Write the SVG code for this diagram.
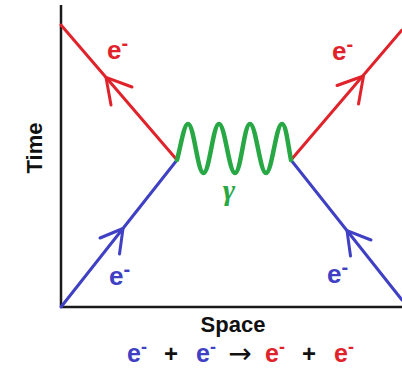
<svg xmlns="http://www.w3.org/2000/svg" width="402" height="379" viewBox="0 0 402 379">
<style>
.t{font-family:"Liberation Sans","DejaVu Sans",sans-serif;font-weight:bold}
.lab{font-size:26px}
.eq{font-size:25px}
.sup{font-size:20px}
.esup{font-size:18px}
.red{fill:#e0232b}
.blue{fill:#4040c4}
.lr{stroke:#e0232b;stroke-width:3;fill:none;stroke-linecap:round;stroke-linejoin:round}
.lb{stroke:#4040c4;stroke-width:3;fill:none;stroke-linecap:round;stroke-linejoin:round}
.axis{stroke:#1a1a1a;stroke-width:2.5;fill:none}
</style>
<rect width="402" height="379" fill="#ffffff"/>
<g id="axes">
<line class="axis" x1="61" y1="5" x2="61" y2="307"/>
<line class="axis" x1="61" y1="307" x2="402" y2="307"/>
<text class="t" x="0" y="0" font-size="22" fill="#111" text-anchor="middle" transform="translate(42,148) rotate(-90)">Time</text>
<text class="t" x="233" y="332" font-size="22" fill="#111" text-anchor="middle">Space</text>
</g>
<g id="connectors">
<path class="lr" d="M177,160 L61,25"/>
<path class="lr" d="M111,105 L106,77.4 L132,87"/>
<path class="lr" d="M291,160 L402,30"/>
<path class="lr" d="M337,85.5 L363.5,76 L358.5,104"/>
<path class="lb" d="M61,307 L177,160"/>
<path class="lb" d="M100,238 L123,228.5 L119.5,254"/>
<path class="lb" d="M291,160 L402,300"/>
<path class="lb" d="M350.5,256 L347,230.6 L371,240"/>
<path d="M177,160 C181,145 184,124 188,124 C194,124 197.5,173 203.5,173 C209.5,173 213,124 219,124 C225,124 229,173 235,173 C241,173 244,124 250,124 C256,124 260,173 266,173 C272,173 276,124 282,124 C286,124 288,145 291,160" fill="none" stroke="#27a844" stroke-width="4.5" stroke-linecap="round" stroke-linejoin="round"/>
</g>
<g id="electron-in-left">
<text class="t lab blue" x="109" y="285">e<tspan class="sup" dy="-9">-</tspan></text>
</g>
<g id="electron-in-right">
<text class="t lab blue" x="327" y="283">e<tspan class="sup" dy="-9">-</tspan></text>
</g>
<g id="electron-out-left">
<text class="t lab red" x="107" y="59">e<tspan class="sup" dy="-9">-</tspan></text>
</g>
<g id="electron-out-right">
<text class="t lab red" x="332" y="60">e<tspan class="sup" dy="-9">-</tspan></text>
</g>
<g id="photon">
<text x="229" y="200" font-family="'Liberation Serif','DejaVu Serif',serif" font-style="italic" font-weight="bold" font-size="30" fill="#27a844" text-anchor="middle">γ</text>
</g>
<g id="equation">
<text class="t eq blue" x="127" y="362">e<tspan class="esup" dy="-9">-</tspan></text>
<text class="t" x="171" y="362" font-size="24" fill="#111" text-anchor="middle">+</text>
<text class="t eq blue" x="196" y="362">e<tspan class="esup" dy="-9">-</tspan></text>
<text x="240" y="363" font-family="'DejaVu Sans',sans-serif" font-size="28" fill="#111" text-anchor="middle">→</text>
<text class="t eq red" x="265" y="362">e<tspan class="esup" dy="-9">-</tspan></text>
<text class="t" x="309" y="362" font-size="24" fill="#111" text-anchor="middle">+</text>
<text class="t eq red" x="334" y="362">e<tspan class="esup" dy="-9">-</tspan></text>
</g>
</svg>
